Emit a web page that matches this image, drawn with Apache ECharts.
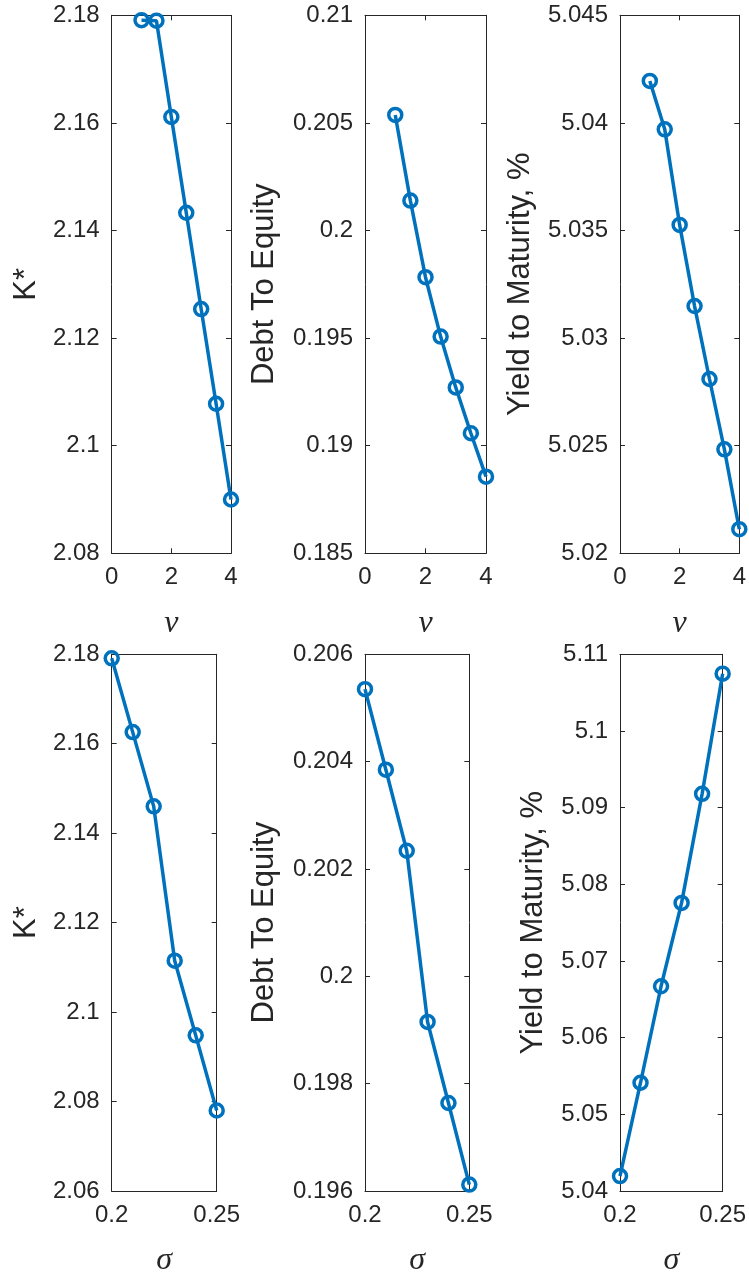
<!DOCTYPE html>
<html>
<head>
<meta charset="utf-8">
<style>
  html, body { margin: 0; padding: 0; background: #fff; }
  #main { width: 749px; height: 1278px; }
</style>
<script src="https://cdn.jsdelivr.net/npm/echarts@6/dist/echarts.min.js"></script>
</head>
<body>
<div id="main"></div>
<script>
// top row: against nu
var nuX = [1, 1.5, 2, 2.5, 3, 3.5, 4];
var nuK = [2.1791, 2.1790, 2.1611, 2.1433, 2.1254, 2.1078, 2.0900];
var nuDE = [0.20537, 0.20139, 0.19783, 0.19507, 0.19271, 0.19058, 0.18856];
var nuYTM = [5.04195, 5.03970, 5.03526, 5.03149, 5.02810, 5.02483, 5.02112];

// bottom row: against sigma
var sigmaX = [0.2, 0.21, 0.22, 0.23, 0.24, 0.25];
var sigmaK = [2.1791, 2.1626, 2.1460, 2.1115, 2.0948, 2.0780];
var sigmaDE = [0.20535, 0.20385, 0.20234, 0.19915, 0.19764, 0.19612];
var sigmaYTM = [5.04195, 5.05412, 5.0667, 5.07757, 5.0918, 5.10747];

var axisColor = '#262626';
var lineColor = '#0072BD';

function zip(xs, ys) {
    return xs.map(function (x, i) { return [x, ys[i]]; });
}
function fmt(v) {
    return String(parseFloat(v.toFixed(6)));
}

var panels = [
    {grid: [111.7, 15.3, 119.3, 538], x: [0, 4, 2], y: [2.08, 2.18, 0.02], xName: 'ν', yName: 'K*', gap: 70, data: zip(nuX, nuK)},
    {grid: [365, 15.3, 121, 538], x: [0, 4, 2], y: [0.185, 0.21, 0.005], xName: 'ν', yName: 'Debt To Equity', gap: 85, data: zip(nuX, nuDE)},
    {grid: [620, 15.3, 119.3, 538], x: [0, 4, 2], y: [5.02, 5.045, 0.005], xName: 'ν', yName: 'Yield to Maturity, %', gap: 84, data: zip(nuX, nuYTM)},
    {grid: [111.7, 654.3, 105, 537.4], x: [0.2, 0.25, 0.05], y: [2.06, 2.18, 0.02], xName: 'σ', yName: 'K*', gap: 70, data: zip(sigmaX, sigmaK)},
    {grid: [365, 654.3, 104.3, 537.4], x: [0.2, 0.25, 0.05], y: [0.196, 0.206, 0.002], xName: 'σ', yName: 'Debt To Equity', gap: 85, data: zip(sigmaX, sigmaDE)},
    {grid: [620, 654.3, 102.7, 537.4], x: [0.2, 0.25, 0.05], y: [5.04, 5.11, 0.01], xName: 'σ', yName: 'Yield to Maturity, %', gap: 71, data: zip(sigmaX, sigmaYTM)}
];

var grids = [], xAxes = [], yAxes = [], series = [];

panels.forEach(function (p, i) {
    grids.push({left: p.grid[0], top: p.grid[1], width: p.grid[2], height: p.grid[3], containLabel: false});
    var line = {show: true, onZero: false, lineStyle: {color: axisColor, width: 1}};
    var tick = {show: true, inside: true, length: 5, lineStyle: {color: axisColor, width: 1}};
    // bottom x
    xAxes.push({
        type: 'value', gridIndex: i, position: 'bottom',
        min: p.x[0], max: p.x[1], interval: p.x[2],
        axisLine: line, axisTick: tick, splitLine: {show: false},
        axisLabel: {color: axisColor, fontSize: 24, fontFamily: 'Liberation Sans', margin: 12, formatter: fmt},
        name: p.xName, nameLocation: 'middle', nameGap: 54,
        nameTextStyle: {color: axisColor, fontSize: 32, fontFamily: 'Liberation Serif', fontStyle: 'italic', verticalAlign: 'top'}
    });
    // top x (box side)
    xAxes.push({
        type: 'value', gridIndex: i, position: 'top',
        min: p.x[0], max: p.x[1], interval: p.x[2],
        axisLine: line, axisTick: tick, splitLine: {show: false}, axisLabel: {show: false}
    });
    // left y
    yAxes.push({
        type: 'value', gridIndex: i, position: 'left',
        min: p.y[0], max: p.y[1], interval: p.y[2],
        axisLine: line, axisTick: tick, splitLine: {show: false},
        axisLabel: {color: axisColor, fontSize: 24, fontFamily: 'Liberation Sans', margin: 12, formatter: fmt},
        name: p.yName, nameLocation: 'middle', nameGap: p.gap,
        nameTextStyle: {color: axisColor, fontSize: 31, fontFamily: 'Liberation Sans'}
    });
    // right y (box side)
    yAxes.push({
        type: 'value', gridIndex: i, position: 'right',
        min: p.y[0], max: p.y[1], interval: p.y[2],
        axisLine: line, axisTick: tick, splitLine: {show: false}, axisLabel: {show: false}
    });
    series.push({
        type: 'line', xAxisIndex: 2 * i, yAxisIndex: 2 * i,
        data: p.data, clip: false,
        symbol: 'circle', symbolSize: 13,
        lineStyle: {color: lineColor, width: 3.5},
        itemStyle: {color: 'rgba(0,0,0,0)', borderColor: lineColor, borderWidth: 3.5},
        emphasis: {disabled: true}
    });
});

var chart = echarts.init(document.getElementById('main'), null, {renderer: 'canvas'});
chart.setOption({
    animation: false,
    backgroundColor: '#fff',
    grid: grids,
    xAxis: xAxes,
    yAxis: yAxes,
    series: series
});
</script>
</body>
</html>
